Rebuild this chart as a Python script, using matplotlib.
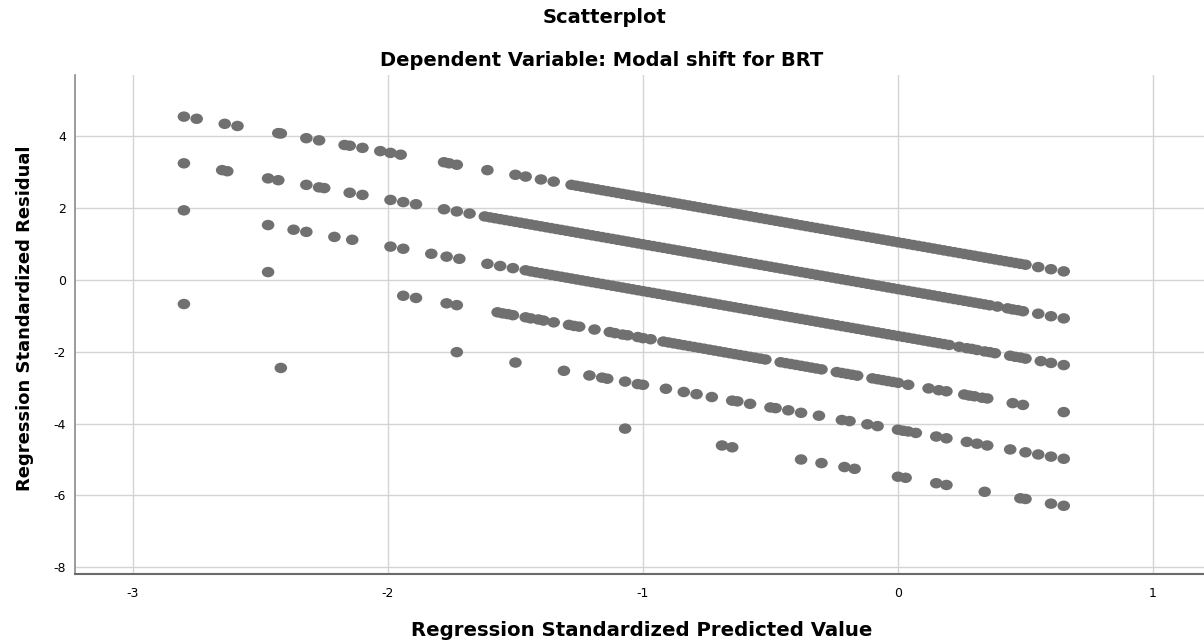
import matplotlib
matplotlib.use("Agg")
import matplotlib.pyplot as plt
from matplotlib.path import Path

plt.rcParams['font.family'] = ['DejaVu Sans']
plt.rcParams['axes.unicode_minus'] = False

# Residual bands (each band = one observed value of the dependent variable)
# band 0 (top)
b0_x = [-2.80, -2.75, -2.64, -2.59, -2.43, -2.42, -2.32, -2.27, -2.17, -2.15,
        -2.10, -2.03, -1.99, -1.95, -1.78, -1.76, -1.73, -1.61, -1.50, -1.46,
        -1.40, -1.35,
        -1.28, -1.26, -1.24, -1.22, -1.20, -1.18, -1.16, -1.14, -1.12, -1.10,
        -1.08, -1.06, -1.04, -1.02, -1.00, -0.98, -0.96, -0.94, -0.92, -0.90,
        -0.88, -0.86, -0.84, -0.82, -0.80, -0.78, -0.76, -0.74, -0.72, -0.70,
        -0.68, -0.66, -0.64, -0.62, -0.60, -0.58, -0.56, -0.54, -0.52, -0.50,
        -0.48, -0.46, -0.44, -0.42, -0.40, -0.38, -0.36, -0.34, -0.32, -0.30,
        -0.28, -0.26, -0.24, -0.22, -0.20, -0.18, -0.16, -0.14, -0.12, -0.10,
        -0.08, -0.06, -0.04, -0.02, 0.00, 0.02, 0.04, 0.06, 0.08, 0.10,
        0.12, 0.14, 0.16, 0.18, 0.20, 0.22, 0.24, 0.26, 0.28, 0.30,
        0.32, 0.34, 0.36, 0.38, 0.40, 0.42, 0.44, 0.46, 0.48, 0.50,
        0.55, 0.60, 0.65]
b0_y = [4.55, 4.49, 4.35, 4.29, 4.09, 4.08, 3.95, 3.89, 3.76, 3.74,
        3.68, 3.59, 3.54, 3.49, 3.28, 3.25, 3.21, 3.06, 2.93, 2.88,
        2.80, 2.74,
        2.650, 2.625, 2.600, 2.575, 2.550, 2.525, 2.500, 2.475, 2.450, 2.425,
        2.400, 2.375, 2.350, 2.325, 2.300, 2.275, 2.250, 2.225, 2.200, 2.175,
        2.150, 2.125, 2.100, 2.075, 2.050, 2.025, 2.000, 1.975, 1.950, 1.925,
        1.900, 1.875, 1.850, 1.825, 1.800, 1.775, 1.750, 1.725, 1.700, 1.675,
        1.650, 1.625, 1.600, 1.575, 1.550, 1.525, 1.500, 1.475, 1.450, 1.425,
        1.400, 1.375, 1.350, 1.325, 1.300, 1.275, 1.250, 1.225, 1.200, 1.175,
        1.150, 1.125, 1.100, 1.075, 1.050, 1.025, 1.000, 0.975, 0.950, 0.925,
        0.900, 0.875, 0.850, 0.825, 0.800, 0.775, 0.750, 0.725, 0.700, 0.675,
        0.650, 0.625, 0.600, 0.575, 0.550, 0.525, 0.500, 0.475, 0.450, 0.425,
        0.36, 0.30, 0.24]

# band 1
b1_x = [-2.80, -2.65, -2.63, -2.47, -2.43, -2.32, -2.27, -2.25, -2.15, -2.10,
        -1.99, -1.94, -1.89, -1.78, -1.73, -1.68,
        -1.62, -1.60, -1.58, -1.56, -1.54, -1.52, -1.50, -1.48, -1.46, -1.44,
        -1.42, -1.40, -1.38, -1.36, -1.34, -1.32, -1.30, -1.28, -1.26, -1.24,
        -1.22, -1.20, -1.18, -1.16, -1.14, -1.12, -1.10, -1.08, -1.06, -1.04,
        -1.02, -1.00, -0.98, -0.96, -0.94, -0.92, -0.90, -0.88, -0.86, -0.84,
        -0.82, -0.80, -0.78, -0.76, -0.74, -0.72, -0.70, -0.68, -0.66, -0.64,
        -0.62, -0.60, -0.58, -0.56, -0.54, -0.52, -0.50, -0.48, -0.46, -0.44,
        -0.42, -0.40, -0.38, -0.36, -0.34, -0.32, -0.30, -0.28, -0.26, -0.24,
        -0.22, -0.20, -0.18, -0.16, -0.14, -0.12, -0.10, -0.08, -0.06, -0.04,
        -0.02, 0.00, 0.02, 0.04, 0.06, 0.08, 0.10, 0.12, 0.14, 0.16,
        0.18, 0.20, 0.22, 0.24, 0.26, 0.28, 0.30, 0.32, 0.34, 0.36,
        0.39, 0.43, 0.45, 0.47, 0.49, 0.55, 0.60, 0.65]
b1_y = [3.25, 3.06, 3.03, 2.83, 2.78, 2.65, 2.58, 2.56, 2.43, 2.37,
        2.23, 2.17, 2.11, 1.97, 1.91, 1.85,
        1.770, 1.745, 1.720, 1.695, 1.670, 1.645, 1.620, 1.595, 1.570, 1.545,
        1.520, 1.495, 1.470, 1.445, 1.420, 1.395, 1.370, 1.345, 1.320, 1.295,
        1.270, 1.245, 1.220, 1.195, 1.170, 1.145, 1.120, 1.095, 1.070, 1.045,
        1.020, 0.995, 0.970, 0.945, 0.920, 0.895, 0.870, 0.845, 0.820, 0.795,
        0.770, 0.745, 0.720, 0.695, 0.670, 0.645, 0.620, 0.595, 0.570, 0.545,
        0.520, 0.495, 0.470, 0.445, 0.420, 0.395, 0.370, 0.345, 0.320, 0.295,
        0.270, 0.245, 0.220, 0.195, 0.170, 0.145, 0.120, 0.095, 0.070, 0.045,
        0.020, -0.005, -0.030, -0.055, -0.080, -0.105, -0.130, -0.155, -0.180, -0.205,
        -0.230, -0.255, -0.280, -0.305, -0.330, -0.355, -0.380, -0.405, -0.430, -0.455,
        -0.480, -0.505, -0.530, -0.555, -0.580, -0.605, -0.630, -0.655, -0.680, -0.705,
        -0.74, -0.79, -0.82, -0.84, -0.87, -0.94, -1.01, -1.07]

# band 2
b2_x = [-2.80, -2.47, -2.37, -2.32, -2.21, -2.14, -1.99, -1.94, -1.83, -1.77,
        -1.72, -1.61, -1.56, -1.51, -1.46,
        -1.44, -1.42, -1.40, -1.38, -1.36, -1.34, -1.32, -1.30, -1.28, -1.26,
        -1.24, -1.22, -1.20, -1.18, -1.16, -1.14, -1.12, -1.10, -1.08, -1.06,
        -1.04, -1.02, -1.00, -0.98, -0.96, -0.94, -0.92, -0.90, -0.88, -0.86,
        -0.84, -0.82, -0.80, -0.78, -0.76, -0.74, -0.72, -0.70, -0.68, -0.66,
        -0.64, -0.62, -0.60, -0.58, -0.56, -0.54, -0.52, -0.50, -0.48, -0.46,
        -0.44, -0.42, -0.40, -0.38, -0.36, -0.34, -0.32, -0.30, -0.28, -0.26,
        -0.24, -0.22, -0.20, -0.18, -0.16, -0.14, -0.12, -0.10, -0.08, -0.06,
        -0.04, -0.02, 0.00, 0.02, 0.04, 0.06, 0.08, 0.10, 0.12, 0.14,
        0.16, 0.18, 0.20,
        0.24, 0.27, 0.29, 0.31, 0.34, 0.36, 0.38, 0.44, 0.46, 0.48,
        0.50, 0.56, 0.60, 0.65]
b2_y = [1.94, 1.53, 1.40, 1.34, 1.20, 1.12, 0.93, 0.87, 0.73, 0.65,
        0.59, 0.45, 0.39, 0.33, 0.27,
        0.240, 0.215, 0.190, 0.165, 0.140, 0.115, 0.090, 0.065, 0.040, 0.015,
        -0.010, -0.035, -0.060, -0.085, -0.110, -0.135, -0.160, -0.185, -0.210, -0.235,
        -0.260, -0.285, -0.310, -0.335, -0.360, -0.385, -0.410, -0.435, -0.460, -0.485,
        -0.510, -0.535, -0.560, -0.585, -0.610, -0.635, -0.660, -0.685, -0.710, -0.735,
        -0.760, -0.785, -0.810, -0.835, -0.860, -0.885, -0.910, -0.935, -0.960, -0.985,
        -1.010, -1.035, -1.060, -1.085, -1.110, -1.135, -1.160, -1.185, -1.210, -1.235,
        -1.260, -1.285, -1.310, -1.335, -1.360, -1.385, -1.410, -1.435, -1.460, -1.485,
        -1.510, -1.535, -1.560, -1.585, -1.610, -1.635, -1.660, -1.685, -1.710, -1.735,
        -1.760, -1.785, -1.810,
        -1.86, -1.90, -1.92, -1.95, -1.99, -2.01, -2.04, -2.11, -2.14, -2.16,
        -2.19, -2.26, -2.31, -2.37]

# band 3
b3_x = [-2.47, -1.94, -1.89, -1.77, -1.73, -1.57, -1.55, -1.53, -1.51, -1.46,
        -1.44, -1.41, -1.39, -1.35, -1.29, -1.27, -1.25, -1.19, -1.13, -1.11,
        -1.08, -1.06, -1.02, -1.00, -0.97,
        -0.92, -0.90, -0.88, -0.86, -0.84, -0.82, -0.80, -0.78, -0.76, -0.74,
        -0.72, -0.70, -0.68, -0.66, -0.64, -0.62, -0.60, -0.58, -0.56, -0.54,
        -0.52,
        -0.46, -0.44, -0.42, -0.40, -0.38, -0.36, -0.34, -0.32, -0.30,
        -0.24, -0.22, -0.20, -0.18, -0.16,
        -0.10, -0.08, -0.06, -0.04, -0.02, 0.00,
        0.04, 0.12, 0.16, 0.19, 0.26, 0.28, 0.30, 0.33, 0.35, 0.45,
        0.49, 0.65]
b3_y = [0.22, -0.44, -0.50, -0.65, -0.70, -0.90, -0.93, -0.95, -0.98, -1.04,
        -1.07, -1.10, -1.13, -1.18, -1.25, -1.28, -1.30, -1.38, -1.45, -1.48,
        -1.52, -1.54, -1.59, -1.62, -1.65,
        -1.715, -1.740, -1.765, -1.790, -1.815, -1.840, -1.865, -1.890, -1.915, -1.940,
        -1.965, -1.990, -2.015, -2.040, -2.065, -2.090, -2.115, -2.140, -2.165, -2.190,
        -2.215,
        -2.290, -2.315, -2.340, -2.365, -2.390, -2.415, -2.440, -2.465, -2.490,
        -2.565, -2.590, -2.615, -2.640, -2.665,
        -2.740, -2.765, -2.790, -2.815, -2.840, -2.865,
        -2.92, -3.02, -3.07, -3.10, -3.19, -3.22, -3.24, -3.28, -3.30, -3.43,
        -3.48, -3.68]

# band 4
b4_x = [-2.80, -1.73, -1.50, -1.31, -1.21, -1.16, -1.14, -1.07, -1.02, -1.00,
        -0.91, -0.84, -0.79, -0.73, -0.65, -0.63, -0.58, -0.50, -0.48, -0.43,
        -0.38, -0.31, -0.22, -0.19, -0.12, -0.08, 0.00, 0.02, 0.04, 0.07,
        0.15, 0.19, 0.27, 0.31, 0.35, 0.44, 0.50, 0.55, 0.60, 0.65]
b4_y = [-0.67, -2.01, -2.30, -2.53, -2.66, -2.72, -2.75, -2.83, -2.90, -2.92,
        -3.03, -3.12, -3.18, -3.26, -3.36, -3.38, -3.45, -3.55, -3.57, -3.63,
        -3.70, -3.78, -3.90, -3.93, -4.02, -4.07, -4.17, -4.20, -4.22, -4.26,
        -4.36, -4.41, -4.51, -4.56, -4.61, -4.72, -4.80, -4.86, -4.92, -4.98]

# band 5 (bottom)
b5_x = [-2.42, -1.07, -0.69, -0.65, -0.38, -0.30, -0.21, -0.17, 0.00, 0.03,
        0.15, 0.19, 0.34, 0.48, 0.50, 0.60, 0.65]
b5_y = [-2.45, -4.14, -4.61, -4.66, -5.00, -5.10, -5.21, -5.26, -5.48, -5.51,
        -5.66, -5.71, -5.90, -6.08, -6.10, -6.23, -6.29]

x_ticks = [-3, -2, -1, 0, 1]
y_ticks = [-8, -6, -4, -2, 0, 2, 4]

pred = b0_x + b1_x + b2_x + b3_x + b4_x + b5_x
resid = b0_y + b1_y + b2_y + b3_y + b4_y + b5_y

# slightly wide dot, like the SPSS output
circ = Path.unit_circle()
dot = Path(circ.vertices * [1.2, 1.0], circ.codes)

fig = plt.figure(figsize=(12.04, 6.41), dpi=100)
ax = fig.add_axes([0.0619, 0.1045, 0.9381, 0.7785])

ax.scatter(pred, resid, s=82, marker=dot, color='#707070', edgecolors='none', zorder=3)

ax.set_xlim(-3.229, 1.2)
ax.set_ylim(-8.19, 5.71)
ax.set_xticks(x_ticks)
ax.set_yticks(y_ticks)
ax.grid(True, color='#d4d4d4', linewidth=1.0, zorder=0)
ax.set_axisbelow(True)

for side in ['top', 'right']:
    ax.spines[side].set_visible(False)
ax.spines['left'].set_color('#8a8a8a')
ax.spines['bottom'].set_color('#6a6a6a')
ax.spines['left'].set_linewidth(1.2)
ax.spines['bottom'].set_linewidth(1.5)

ax.tick_params(axis='both', length=0, labelsize=9, colors='#000000')
ax.tick_params(axis='x', pad=9)
ax.tick_params(axis='y', pad=6)

fig.text(0.502, 0.972, 'Scatterplot', ha='center', va='center',
         fontsize=14, fontweight='bold')
fig.text(0.5, 0.906, 'Dependent Variable: Modal shift for BRT', ha='center',
         va='center', fontsize=14, fontweight='bold')
fig.text(0.533, 0.017, 'Regression Standardized Predicted Value', ha='center',
         va='center', fontsize=14.2, fontweight='bold')
fig.text(0.021, 0.504, 'Regression Standardized Residual', ha='center',
         va='center', rotation=90, fontsize=13, fontweight='bold')

fig.savefig('out.png', dpi=100)
